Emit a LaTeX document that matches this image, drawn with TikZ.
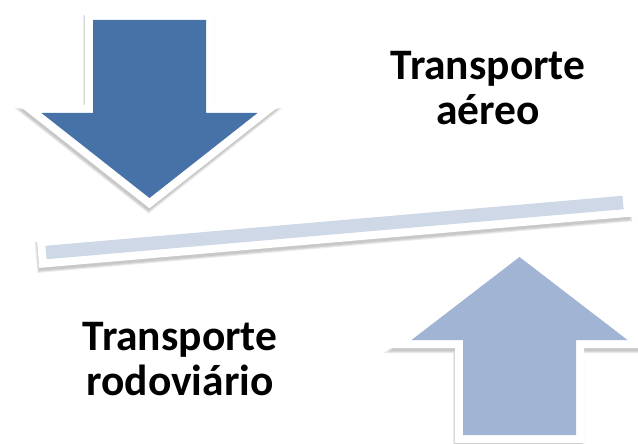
\documentclass[tikz,border=0pt]{standalone}
\usepackage{fontspec}
\setmainfont{Carlito}
\usetikzlibrary{positioning}
\definecolor{dkb}{RGB}{70,114,168}
\definecolor{ltb}{RGB}{162,180,212}
\definecolor{bar}{RGB}{207,216,230}
\tikzset{sd/.append style={draw=black,line join=miter,opacity=0.08}}
\tikzset{wb/.append style={draw=white,line width=16,line join=miter}}
\tikzset{tx/.append style={font=\bfseries\fontsize{43.5}{45}\selectfont,align=center,inner sep=0}}

\begin{document}
\begin{tikzpicture}[x=1pt,y=-1pt]
                \useasboundingbox (0,0) rectangle (638,444);
                % shadows
                \foreach \w in {18,16,14}{
                \draw[sd,line width=\w,shift={(-1,4)}] (93,20) -- (206,20) -- (206,113) -- (257.5,113) -- (149.5,198) -- (41.5,113) -- (93,113) -- cycle;
                \draw[sd,line width=\w,shift={(-1,4)}] (463,435) -- (576,435) -- (576,340) -- (627.5,340) -- (519.5,257) -- (411.5,340) -- (463,340) -- cycle;
                \draw[sd,line width=\w,shift={(-1,4)},rotate around={4.95:(46,252.5)}] (46,245.75) rectangle (625.2,259.25);
                }
                % arrows
                \draw[wb,fill=dkb] (93,20) -- (206,20) -- (206,113) -- (257.5,113) -- (149.5,198) -- (41.5,113) -- (93,113) -- cycle;
                \fill[dkb] (93,20) -- (206,20) -- (206,113) -- (257.5,113) -- (149.5,198) -- (41.5,113) -- (93,113) -- cycle;
                \draw[wb,fill=ltb] (463,435) -- (576,435) -- (576,340) -- (627.5,340) -- (519.5,257) -- (411.5,340) -- (463,340) -- cycle;
                \fill[ltb] (463,435) -- (576,435) -- (576,340) -- (627.5,340) -- (519.5,257) -- (411.5,340) -- (463,340) -- cycle;
                % bar
                \begin{scope}[rotate around={4.95:(46,252.5)}]
                \draw[wb,line width=16] (46,245.75) rectangle (625.2,259.25);
                \fill[bar] (46,245.75) rectangle (625.2,259.25);
                \end{scope}
                % labels
                \node[tx] (aereo) at (488,88) {Transporte\\a\'ereo};
                \node[tx] (rodo) at (180,359) {Transporte\\rodovi\'ario};
            \end{tikzpicture}
\end{document}
